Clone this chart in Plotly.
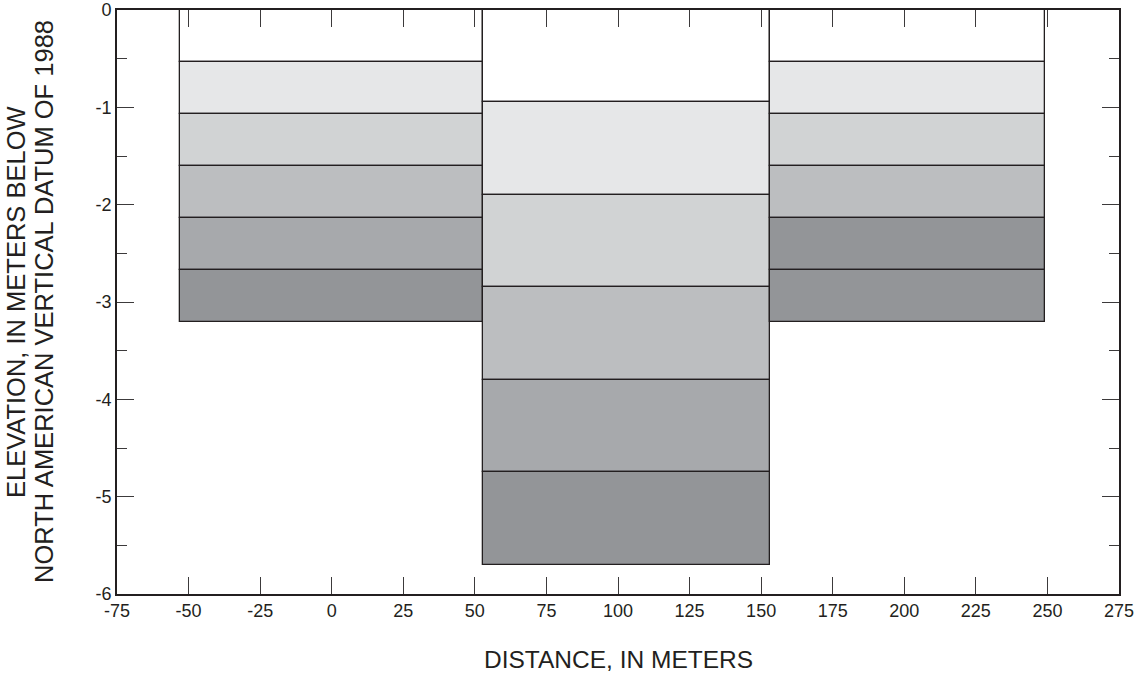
import plotly.graph_objects as go

# Column boundaries along the section (meters)
column_edges = [-53.0, 52.75, 153.0, 249.0]

# Layer boundary elevations for each column, top to bottom (meters below NAVD 88)
left_bounds = [0.0, -0.534, -1.068, -1.602, -2.136, -2.670, -3.204]
middle_bounds = [0.0, -0.95, -1.90, -2.85, -3.80, -4.75, -5.70]
right_bounds = [0.0, -0.534, -1.068, -1.602, -2.136, -2.670, -3.204]

# Layer fills, top to bottom
left_colors = ["#ffffff", "#e6e7e8", "#d1d3d4", "#bcbec0", "#a7a9ac", "#939598"]
middle_colors = ["#ffffff", "#e6e7e8", "#d1d3d4", "#bcbec0", "#a7a9ac", "#939598"]
right_colors = ["#ffffff", "#e6e7e8", "#d1d3d4", "#bcbec0", "#939598", "#939598"]

x_ticks = list(range(-75, 276, 25))
y_ticks = [0, -1, -2, -3, -4, -5, -6]

INK = "#231f20"
FONT = "Liberation Sans, Arial, Helvetica, sans-serif"

fig = go.Figure()

columns = [
    (column_edges[0], column_edges[1], left_bounds, left_colors),
    (column_edges[1], column_edges[2], middle_bounds, middle_colors),
    (column_edges[2], column_edges[3], right_bounds, right_colors),
]

for x0, x1, bounds, colors in columns:
    for i, color in enumerate(colors):
        top, bottom = bounds[i], bounds[i + 1]
        fig.add_trace(go.Bar(
            x=[(x0 + x1) / 2],
            width=[x1 - x0],
            base=[bottom],
            y=[top - bottom],
            marker=dict(color=color, line=dict(color=INK, width=1.3)),
            showlegend=False,
            hoverinfo="skip",
        ))

axis_common = dict(
    showline=True,
    linecolor=INK,
    linewidth=1.6,
    mirror="ticks",
    ticks="inside",
    ticklen=17,
    tickwidth=1.3,
    tickcolor="#3c3a3b",
    showgrid=False,
    zeroline=False,
    automargin=False,
    tickfont=dict(family=FONT, size=18, color=INK),
)

fig.update_xaxes(
    range=[-75, 275],
    tickvals=x_ticks,
    ticktext=[str(v) for v in x_ticks],
    **axis_common,
)
fig.update_yaxes(
    range=[-6, 0],
    tickvals=y_ticks,
    ticktext=[str(v) for v in y_ticks],
    minor=dict(dtick=0.5, ticks="inside", ticklen=10, tickwidth=1.3, tickcolor="#3c3a3b"),
    **axis_common,
)

fig.update_layout(
    width=1136,
    height=677,
    margin=dict(l=117, r=17, t=10, b=83),
    plot_bgcolor="white",
    paper_bgcolor="white",
    barmode="overlay",
    bargap=0,
    font=dict(family=FONT, color=INK),
    annotations=[
        dict(text="DISTANCE, IN METERS", xref="paper", yref="paper",
             x=0.5, y=-66 / 584, xanchor="center", yanchor="middle",
             showarrow=False, font=dict(family=FONT, size=24.5, color=INK)),
        dict(text="ELEVATION, IN METERS BELOW", xref="paper", yref="paper",
             x=-101 / 1002, y=0.5, xanchor="center", yanchor="middle",
             textangle=-90, showarrow=False,
             font=dict(family=FONT, size=25.5, color=INK)),
        dict(text="NORTH AMERICAN VERTICAL DATUM OF 1988", xref="paper", yref="paper",
             x=-73 / 1002, y=0.5, xanchor="center", yanchor="middle",
             textangle=-90, showarrow=False,
             font=dict(family=FONT, size=25.5, color=INK)),
    ],
)

fig.write_html("out.html")
